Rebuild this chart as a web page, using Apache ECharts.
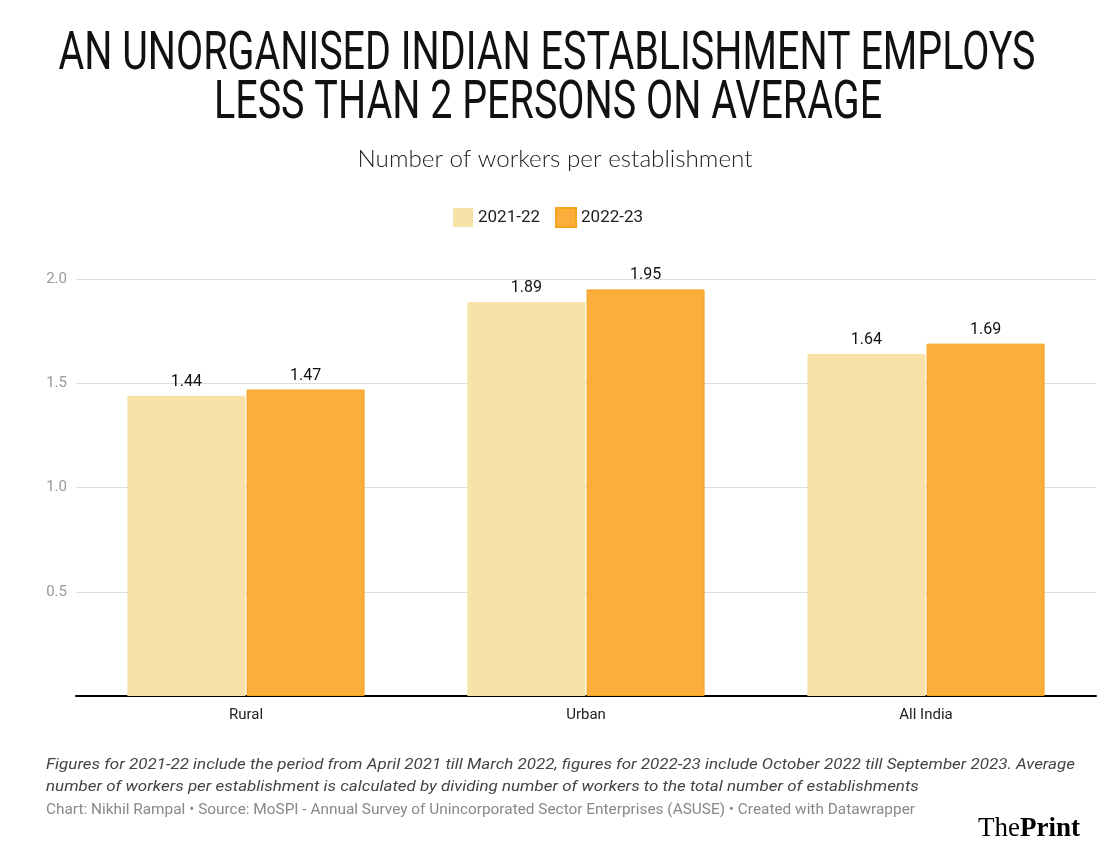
<!DOCTYPE html>
<html><head><meta charset="utf-8">
<script src="https://cdn.jsdelivr.net/npm/echarts@6/dist/echarts.min.js"></script>
<style>html,body{margin:0;padding:0;background:#fff}#c{width:1109px;height:861px}</style>
</head><body><div id="c"></div>
<script>
const categories = ['Rural', 'Urban', 'All India'];
const seriesNames = ['2021-22', '2022-23'];
const values2122 = [1.44, 1.89, 1.64];
const values2223 = [1.47, 1.95, 1.69];
const yTicks = [0, 0.5, 1.0, 1.5, 2.0];

const titleLines = ['AN UNORGANISED INDIAN ESTABLISHMENT EMPLOYS', 'LESS THAN 2 PERSONS ON AVERAGE'];
const subtitle = 'Number of workers per establishment';
const noteLines = ['Figures for 2021-22 include the period from April 2021 till March 2022, figures for 2022-23 include October 2022 till September 2023. Average',
  'number of workers per establishment is calculated by dividing number of workers to the total number of establishments'];
const sourceText = 'Chart: Nikhil Rampal • Source: MoSPI - Annual Survey of Unincorporated Sector Enterprises (ASUSE) • Created with Datawrapper';

const cv = document.createElement('canvas').getContext('2d');
function fit(text, font, w) { cv.font = font; return w / cv.measureText(text).width; }

const titleFont = '400 53px Roboto';
const s1 = fit(titleLines[0], titleFont, 977);
const subFont = '300 23px Lato';
const sSub = fit(subtitle, subFont, 395);
const noteFont = 'italic 400 15px Roboto';
const sNote = fit(noteLines[0], noteFont, 1029);
const srcFont = '400 14px Roboto';
const sSrc = fit(sourceText, srcFont, 869);

const chart = echarts.init(document.getElementById('c'));
chart.setOption({
  animation: false,
  backgroundColor: '#fff',
  legend: {
    top: 202, left: 448, itemWidth: 20, itemHeight: 19, itemGap: 15,
    textStyle: { fontFamily: 'Roboto', fontSize: 17, color: '#222' },
    data: seriesNames.map(n => ({ name: n, icon: 'rect' }))
  },
  grid: { left: 76, right: 13, top: 279, bottom: 165 },
  xAxis: {
    type: 'category', data: categories,
    axisLine: { lineStyle: { color: '#000', width: 2 } },
    axisTick: { show: false },
    axisLabel: { fontFamily: 'Roboto', fontSize: 15, color: '#222', margin: 12 }
  },
  yAxis: {
    type: 'value', min: 0, max: 2, interval: 0.5,
    axisLine: { show: false }, axisTick: { show: false },
    splitLine: { lineStyle: { color: '#dcdcdc', width: 1 } },
    axisLabel: {
      fontFamily: 'Roboto', fontSize: 15, color: '#999', margin: 9,
      formatter: v => (v === 0 ? '' : (yTicks.includes(v) ? v.toFixed(1) : ''))
    }
  },
  series: [
    {
      name: seriesNames[0], type: 'bar', data: values2122, barWidth: 118, barGap: '1%',
      itemStyle: { color: '#f7e3a8' },
      label: { show: true, position: 'top', distance: 6, fontFamily: 'Roboto', fontSize: 16, color: '#111', formatter: p => p.value.toFixed(2) }
    },
    {
      name: seriesNames[1], type: 'bar', data: values2223, barWidth: 118,
      itemStyle: { color: '#fbae3b', borderColor: '#f5a21f', borderWidth: 1 },
      label: { show: true, position: 'top', distance: 6, fontFamily: 'Roboto', fontSize: 16, color: '#111', formatter: p => p.value.toFixed(2) }
    }
  ],
  graphic: [
    { type: 'text', x: 547, y: 56, scaleX: s1, style: { text: titleLines[0], font: titleFont, fill: '#111', textAlign: 'center', textVerticalAlign: 'middle' } },
    { type: 'text', x: 548, y: 105, scaleX: s1, style: { text: titleLines[1], font: titleFont, fill: '#111', textAlign: 'center', textVerticalAlign: 'middle' } },
    { type: 'text', x: 555, y: 160, scaleX: sSub, style: { text: subtitle, font: subFont, fill: '#222', textAlign: 'center', textVerticalAlign: 'middle' } },
    { type: 'text', x: 46, y: 765, scaleX: sNote, style: { text: noteLines[0], font: noteFont, fill: '#444', textAlign: 'left', textVerticalAlign: 'middle' } },
    { type: 'text', x: 46, y: 787, scaleX: sNote, style: { text: noteLines[1], font: noteFont, fill: '#444', textAlign: 'left', textVerticalAlign: 'middle' } },
    { type: 'text', x: 46, y: 810, scaleX: sSrc, style: { text: sourceText, font: srcFont, fill: '#888', textAlign: 'left', textVerticalAlign: 'middle' } },
    { type: 'text', x: 1080, y: 829, style: {
        text: '{a|The}{b|Print}', textAlign: 'right', textVerticalAlign: 'middle',
        rich: { a: { fontFamily: 'Liberation Serif', fontSize: 27, color: '#c8301e' }, b: { fontFamily: 'Liberation Serif', fontWeight: 'bold', fontSize: 27, color: '#c8301e' } }
    } }
  ]
});
</script></body></html>
